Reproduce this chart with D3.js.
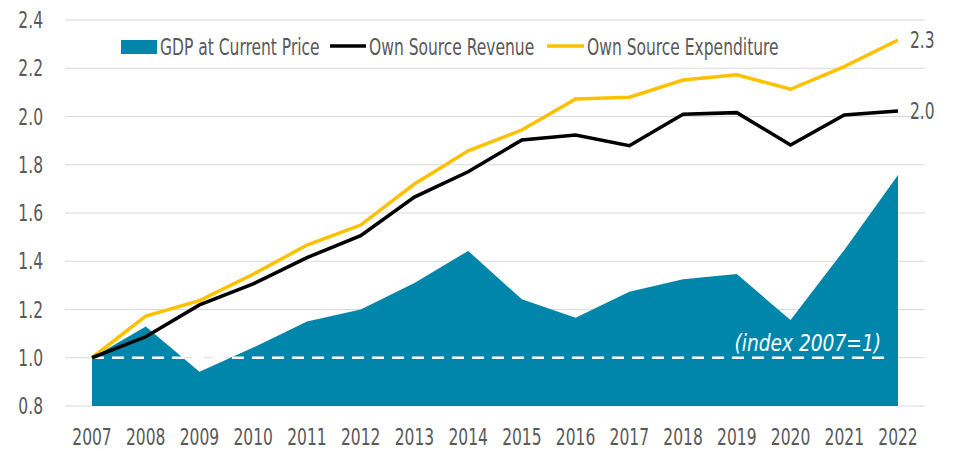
<!DOCTYPE html>
<html>
<head>
<meta charset="utf-8">
<script src="https://cdn.jsdelivr.net/npm/d3@7"></script>
<style>
  body { margin: 0; background: #fff; }
  text { font-family: "DejaVu Sans Condensed", "Liberation Sans Narrow", sans-serif; }
</style>
</head>
<body>
<div id="chart"></div>
<script>
const years = [2007, 2008, 2009, 2010, 2011, 2012, 2013, 2014, 2015, 2016, 2017, 2018, 2019, 2020, 2021, 2022];
const gdp = [1.0, 1.13, 0.942, 1.042, 1.15, 1.20, 1.31, 1.443, 1.242, 1.166, 1.274, 1.325, 1.347, 1.156, 1.447, 1.757];
const revenue = [1.0, 1.087, 1.219, 1.306, 1.415, 1.506, 1.666, 1.771, 1.903, 1.923, 1.879, 2.009, 2.016, 1.882, 2.006, 2.023];
const expenditure = [1.0, 1.173, 1.237, 1.346, 1.467, 1.55, 1.72, 1.858, 1.944, 2.073, 2.08, 2.151, 2.173, 2.113, 2.207, 2.317];
const yTicks = [0.8, 1.0, 1.2, 1.4, 1.6, 1.8, 2.0, 2.2, 2.4];

const width = 955, height = 451;
const grey = "#595959";
const squeeze = 0.75; // condensed look

const svg = d3.select("#chart").append("svg")
  .attr("width", width)
  .attr("height", height);

const x = d3.scaleLinear().domain([2007, 2022]).range([92, 898]);
const y = d3.scaleLinear().domain([0.8, 2.4]).range([406, 20]);

// narrow text helper
function label(g, tx, ty, str, anchor) {
  return g.append("text")
    .attr("transform", `translate(${tx},${ty}) scale(${squeeze},1)`)
    .attr("text-anchor", anchor || "start")
    .attr("fill", grey)
    .attr("font-size", 23)
    .text(str);
}

// gridlines
svg.append("g")
  .selectAll("line")
  .data(yTicks)
  .enter()
  .append("line")
  .attr("x1", 65).attr("x2", 925)
  .attr("y1", d => y(d)).attr("y2", d => y(d))
  .attr("stroke", "#d9d9d9")
  .attr("stroke-width", 1.2);

// y labels
const yl = svg.append("g");
yTicks.forEach(d => label(yl, 43, y(d) + 8, d.toFixed(1), "end"));

// x labels
const xl = svg.append("g");
years.forEach(d => label(xl, x(d), 445, d, "middle"));

// GDP area
const area = d3.area()
  .x((d, i) => x(years[i]))
  .y0(y(0.8))
  .y1(d => y(d));

svg.append("path")
  .datum(gdp)
  .attr("fill", "#0086AB")
  .attr("d", area);

// index line
svg.append("line")
  .attr("x1", x(2007)).attr("x2", x(2022) - 6)
  .attr("y1", y(1)).attr("y2", y(1))
  .attr("stroke", "#fff")
  .attr("stroke-width", 2.5)
  .attr("stroke-dasharray", "12,8");

svg.append("text")
  .attr("transform", "translate(881,351) scale(0.9,1)")
  .attr("text-anchor", "end")
  .attr("fill", "#fff")
  .attr("font-size", 23)
  .attr("font-style", "italic")
  .text("(index 2007=1)");

const line = d3.line()
  .x((d, i) => x(years[i]))
  .y(d => y(d));

svg.append("path")
  .datum(expenditure)
  .attr("fill", "none")
  .attr("stroke", "#FFC000")
  .attr("stroke-width", 3.5)
  .attr("d", line);

svg.append("path")
  .datum(revenue)
  .attr("fill", "none")
  .attr("stroke", "#000")
  .attr("stroke-width", 3.5)
  .attr("d", line);

// end labels
label(svg, 910, y(expenditure[15]) + 8, expenditure[15].toFixed(1));
label(svg, 910, y(revenue[15]) + 8, revenue[15].toFixed(1));

// legend
const lg = svg.append("g");
lg.append("rect")
  .attr("x", 121).attr("y", 40)
  .attr("width", 36).attr("height", 14)
  .attr("fill", "#0086AB");
label(lg, 160, 55, "GDP at Current Price");

lg.append("line")
  .attr("x1", 330).attr("x2", 366)
  .attr("y1", 46).attr("y2", 46)
  .attr("stroke", "#000").attr("stroke-width", 3.5);
label(lg, 369, 55, "Own Source Revenue");

lg.append("line")
  .attr("x1", 547).attr("x2", 584)
  .attr("y1", 46).attr("y2", 46)
  .attr("stroke", "#FFC000").attr("stroke-width", 3.5);
label(lg, 587, 55, "Own Source Expenditure");
</script>
</body>
</html>
